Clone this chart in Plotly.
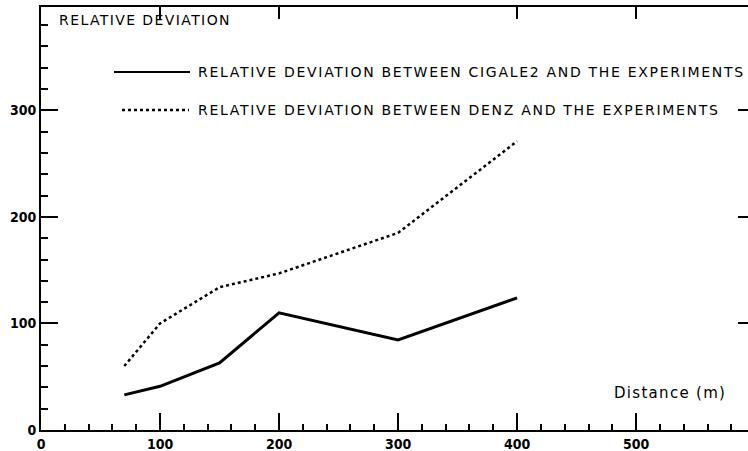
import plotly.graph_objects as go

# Data
distance_cigale = [70, 100, 150, 200, 300, 400]
dev_cigale = [33, 41, 63, 110, 84.5, 124]
distance_denz = [70, 100, 150, 200, 300, 400]
dev_denz = [60, 100, 134, 147, 185, 271]

x_major_ticks = [0, 100, 200, 300, 400, 500]
x_tick_labels = ["0", "100", "200", "300", "400", "500"]
y_major_ticks = [0, 100, 200, 300]
y_tick_labels = ["0", "100", "200", "300"]

legend_cigale = "RELATIVE DEVIATION BETWEEN CIGALE2 AND THE EXPERIMENTS"
legend_denz = "RELATIVE DEVIATION BETWEEN DENZ AND THE EXPERIMENTS"

W, H = 748, 451
ML, MR, MT, MB = 41, 0, 7, 21
X_RANGE = [0, 594]
Y_RANGE = [0, 397]

tick_font = dict(family="DejaVu Sans Condensed, Liberation Sans Narrow, sans-serif",
                 size=14, color="black", weight="bold")
text_font = dict(family="DejaVu Sans, Liberation Sans, sans-serif", size=14, color="black")

fig = go.Figure()
fig.add_trace(go.Scatter(x=distance_cigale, y=dev_cigale, mode="lines",
                         line=dict(color="black", width=3), showlegend=False,
                         xaxis="x", yaxis="y"))
fig.add_trace(go.Scatter(x=distance_denz, y=dev_denz, mode="lines",
                         line=dict(color="black", width=2.5, dash="dot"), showlegend=False,
                         xaxis="x", yaxis="y"))
fig.add_trace(go.Scatter(x=[None], y=[None], xaxis="x2", yaxis="y2", showlegend=False))

fig.update_layout(
    width=W, height=H,
    margin=dict(l=ML, r=MR, t=MT, b=MB, pad=0, autoexpand=False),
    paper_bgcolor="white", plot_bgcolor="white",
    xaxis=dict(range=X_RANGE, tickmode="array", tickvals=x_major_ticks, ticktext=x_tick_labels,
               ticks="inside", ticklen=17, tickwidth=2, tickcolor="black",
               minor=dict(dtick=20, tick0=0, ticks="inside", ticklen=6, tickwidth=1.5, tickcolor="black"),
               showline=True, linecolor="black", linewidth=2, showgrid=False, zeroline=False,
               tickfont=tick_font, ticklabelstandoff=0, automargin=False, fixedrange=True),
    yaxis=dict(range=Y_RANGE, tickmode="array", tickvals=y_major_ticks, ticktext=y_tick_labels,
               ticks="inside", ticklen=17, tickwidth=1.5, tickcolor="black",
               minor=dict(dtick=20, tick0=0, ticks="inside", ticklen=7, tickwidth=1.5, tickcolor="black"),
               showline=True, linecolor="black", linewidth=2, showgrid=False, zeroline=False,
               tickfont=tick_font, ticklabelstandoff=0, automargin=False, fixedrange=True),
    xaxis2=dict(range=X_RANGE, overlaying="x", side="top", anchor="y",
                tickmode="array", tickvals=[100, 200, 400, 500],
                ticks="inside", ticklen=12, tickwidth=1.5, tickcolor="black",
                showticklabels=False, showline=True, linecolor="black", linewidth=2,
                showgrid=False, zeroline=False, automargin=False, fixedrange=True),
    yaxis2=dict(range=Y_RANGE, overlaying="y", side="right", anchor="x",
                tickmode="array", tickvals=[100, 200, 300],
                ticks="inside", ticklen=10, tickwidth=1.5, tickcolor="black",
                showticklabels=False, showline=False, showgrid=False, zeroline=False,
                automargin=False, fixedrange=True),
)

pw = W - ML - MR
ph = H - MT - MB
def px_x(p):
    return (p - ML) / pw
def px_y(p):
    return 1 - (p - MT) / ph

# Legend samples (decorations in paper coordinates)
fig.add_shape(type="line", xref="paper", yref="paper",
              x0=px_x(114), x1=px_x(190), y0=px_y(72), y1=px_y(72),
              line=dict(color="black", width=2))
fig.add_shape(type="line", xref="paper", yref="paper",
              x0=px_x(122), x1=px_x(189), y0=px_y(110), y1=px_y(110),
              line=dict(color="black", width=2.5, dash="dot"))

fig.add_annotation(xref="paper", yref="paper", x=px_x(196), y=px_y(72), xanchor="left", yanchor="middle",
                   text=legend_cigale, showarrow=False, font=text_font)
fig.add_annotation(xref="paper", yref="paper", x=px_x(196), y=px_y(110), xanchor="left", yanchor="middle",
                   text=legend_denz, showarrow=False, font=text_font)
fig.add_annotation(xref="paper", yref="paper", x=px_x(57), y=px_y(20), xanchor="left", yanchor="middle",
                   text="RELATIVE DEVIATION", showarrow=False, font=text_font)
fig.add_annotation(xref="paper", yref="paper", x=px_x(612), y=px_y(393), xanchor="left", yanchor="middle",
                   text="Distance (m)", showarrow=False,
                   font=dict(family="DejaVu Sans, sans-serif", size=15, color="black"))

post = """
document.body.style.margin = '0';
document.querySelectorAll('.annotation-text').forEach(function(t){
  var txt = t.textContent;
  var s = txt.indexOf('Distance') >= 0 ? 1.3 : (txt.indexOf('BETWEEN') >= 0 ? 1.7 : 1.4);
  var b = t.getBBox();
  t.setAttribute('letter-spacing', s + 'px');
  t.style.letterSpacing = s + 'px';
  var b2 = t.getBBox();
  var dx = b.x - b2.x;
  var old = t.getAttribute('transform') || '';
  t.setAttribute('transform', old + ' translate(' + dx + ',0)');
});
"""

fig.write_html("out.html", post_script=post, config={"displayModeBar": False})
